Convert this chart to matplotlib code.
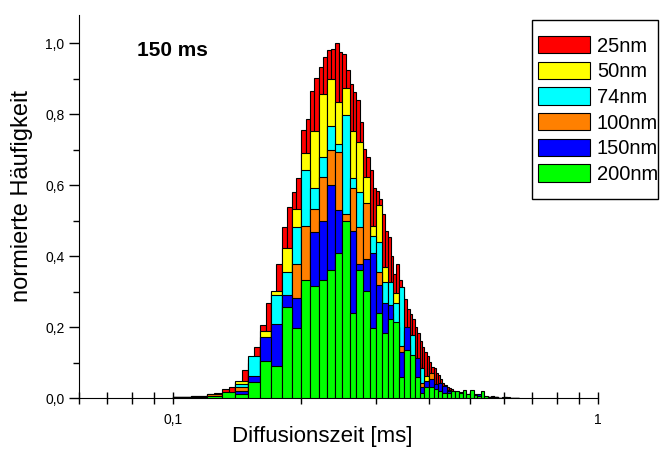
import numpy as np
import matplotlib.pyplot as plt
from matplotlib.patches import Rectangle
from matplotlib.ticker import FixedLocator, FuncFormatter, NullFormatter

plt.rcParams['font.family'] = ['Liberation Sans', 'DejaVu Sans']

# Histogram bins: coarse bins of 0.01 ms for 50-200 nm, fine bins of 0.005 ms for 25 nm
coarse_start = 0.10
coarse_width = 0.01
fine_start = 0.10
fine_width = 0.005

# normalised counts, one value per coarse bin (0.10 ... 0.64 ms)
h200 = [.002, .003, .006, .016, .012, .046, .105, .090, .257, .196,
        .332, .315, .332, .362, .410, .500, .240, .362, .302, .196,
        .240, .182, .224, .215, .060, .135, .121, .060, .015, .030,
        .030, .025, .020, .015, .013, .020, .020, .015, .022, .012,
        .022, .008, .006, .020, .006, .003, .002, .002, .001, .001,
        .002, .001, .001, .001, .001]
h150 = [.002, .003, .006, .012, .019, .062, .173, .210, .290, .281,
        .310, .469, .500, .600, .530, .480, .470, .379, .391, .410,
        .320, .268, .262, .200, .131, .201, .110, .112, .030, .048,
        .053, .040, .043, .035, .020, .015, .012, .018, .010, .008,
        .006, .006, .010, .008, .004, .003, .002, .002, .001, .001,
        .001, .001, .001, .001, .001]
h100 = [.002, .003, .012, .012, .030, .050, .140, .200, .270, .377,
        .485, .534, .623, .700, .694, .520, .591, .481, .550, .390,
        .356, .250, .240, .200, .146, .150, .100, .090, .043, .040,
        .071, .030, .030, .020, .020, .015, .010, .010, .010, .012,
        .008, .006, .005, .004, .004, .003, .005, .002, .001, .001,
        .004, .002, .001, .001, .001]
h74 = [.002, .006, .008, .014, .039, .118, .160, .290, .356, .483,
       .644, .593, .680, .767, .717, .797, .621, .581, .530, .457,
       .440, .328, .328, .267, .314, .190, .177, .100, .084, .045,
       .050, .035, .030, .025, .022, .020, .015, .012, .010, .008,
       .006, .012, .006, .006, .004, .003, .002, .002, .001, .001,
       .001, .001, .001, .001, .001]
h50 = [.002, .004, .008, .015, .049, .110, .190, .302, .424, .534,
       .691, .753, .856, .900, .835, .875, .753, .722, .623, .485,
       .545, .368, .310, .295, .290, .180, .160, .100, .070, .062,
       .060, .035, .035, .028, .020, .015, .012, .010, .008, .006,
       .006, .005, .004, .004, .003, .003, .002, .002, .001, .001,
       .001, .001, .001, .001, .001]
# 25 nm, one value per fine bin (0.100 ... 0.645 ms)
h25 = [.003, .004, .006, .007, .010, .014, .025, .031, .045, .079,
       .100, .145, .205, .267, .300, .379, .483, .539, .581, .619,
       .757, .788, .865, .902, .933, .962, .982, .985, 1.00, .975,
       .971, .926, .886, .863, .839, .778, .703, .680, .642, .591,
       .585, .562, .520, .470, .455, .400, .351, .379, .332, .314,
       .278, .250, .236, .222, .201, .182, .162, .145, .131, .118,
       .102, .088, .084, .070, .065, .053, .043, .037, .032, .028,
       .025, .020, .018, .015, .012, .010, .012, .008, .008, .006,
       .006, .005, .004, .004, .003, .003, .003, .002, .002, .002,
       .002, .002, .004, .005, .004, .002, .001, .001, .001, .002,
       .004, .003, .001, .001, .001, .001, .001, .001, .001, .001]

labels = ['25nm', '50nm', '74nm', '100nm', '150nm', '200nm']
colors = ['#ff0000', '#ffff00', '#00ffff', '#ff8000', '#0000ff', '#00ff00']

coarse_left = coarse_start + coarse_width * np.arange(len(h200))
fine_left = fine_start + fine_width * np.arange(len(h25))

fig = plt.figure(figsize=(6.61, 4.59), dpi=100)
ax = fig.add_axes([79 / 661, 61 / 459, 519 / 661, 383 / 459])

# overlapping histograms, 25nm at the back, 200nm in front
series = [(fine_left, h25, fine_width), (coarse_left, h50, coarse_width),
          (coarse_left, h74, coarse_width), (coarse_left, h100, coarse_width),
          (coarse_left, h150, coarse_width), (coarse_left, h200, coarse_width)]
for i, (left, h, w) in enumerate(series):
    ax.bar(left, h, width=w, align='edge', color=colors[i], edgecolor='black',
           linewidth=0.8, label=labels[i], zorder=2 + i)

ax.set_xscale('log')
ax.set_xlim(0.06, 1.0)
ax.set_ylim(0, 1.08)

ax.spines['top'].set_visible(False)
ax.spines['right'].set_visible(False)

ax.xaxis.set_major_locator(FixedLocator([0.1, 1]))
ax.xaxis.set_major_formatter(FuncFormatter(lambda v, p: '0,1' if v < 0.5 else '1'))
ax.xaxis.set_minor_locator(FixedLocator([0.06, 0.07, 0.08, 0.09] + [0.1 * i for i in range(2, 10)]))
ax.xaxis.set_minor_formatter(NullFormatter())
ax.yaxis.set_major_locator(FixedLocator(np.arange(0, 1.01, 0.2)))
ax.yaxis.set_minor_locator(FixedLocator(np.arange(0.1, 1.0, 0.2)))
ax.yaxis.set_major_formatter(FuncFormatter(lambda v, p: f'{v:.1f}'.replace('.', ',')))

ax.tick_params(axis='x', which='both', direction='inout', length=8, width=1, labelsize=10, pad=7)
ax.tick_params(axis='y', which='major', direction='out', length=7, width=1, labelsize=10)
ax.tick_params(axis='y', which='minor', direction='out', length=4, width=1)

ax.set_xlabel('Diffusionszeit [ms]', fontsize=16)
ax.set_ylabel('normierte Häufigkeit', fontsize=17)
ax.xaxis.set_label_coords(0.469, -0.072)
ax.yaxis.set_label_coords(-0.088, 0.527)

fig.text(137 / 661, 1 - 50 / 459, '150 ms', fontsize=15, fontweight='bold',
         ha='left', va='center')

# legend entries without frame, frame drawn separately
leg = fig.legend(loc='upper left', bbox_to_anchor=(538 / 661, 1 - 36 / 459),
                 fontsize=14.5, frameon=False, handlelength=2.59, handleheight=0.95,
                 handletextpad=0.33, labelspacing=0.3, borderpad=0, borderaxespad=0)
fig.add_artist(Rectangle((532 / 661, 1 - 199 / 459), 126 / 661, 179 / 459,
                         transform=fig.transFigure, fill=False,
                         edgecolor='black', linewidth=1.0))

fig.savefig('out.png', dpi=100)
